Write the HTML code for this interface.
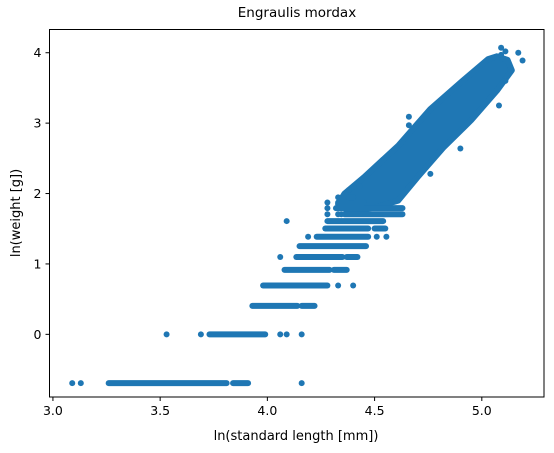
<!DOCTYPE html>
<html><head><meta charset="utf-8"><style>
html,body{margin:0;padding:0;background:#fff;}
svg{display:block;font-family:"DejaVu Sans","Liberation Sans",sans-serif;}
</style></head><body>
<svg id="chart" width="554" height="453" viewBox="0 0 554 453">
<rect x="0" y="0" width="554" height="453" fill="#fff"/>
<text x="297" y="17" font-size="13.5" text-anchor="middle" fill="#000">Engraulis mordax</text>
<g id="marks"></g>
<g id="axes"></g>
<rect x="49.5" y="29.5" width="494.5" height="367.5" fill="none" stroke="#000" stroke-width="1"/>
<text x="296" y="440" font-size="13" text-anchor="middle">ln(standard length [mm])</text>
<text x="0" y="0" font-size="13" text-anchor="middle" transform="translate(20,213) rotate(-90)">ln(weight [g])</text>
</svg>
<script>
const xTicks = [3.0, 3.5, 4.0, 4.5, 5.0];
const xTickLabels = ["3.0", "3.5", "4.0", "4.5", "5.0"];
const yTicks = [0, 1, 2, 3, 4];
const yTickLabels = ["0", "1", "2", "3", "4"];
// discrete weight rows: level, segment starts, segment ends (ln length)
const rowLevels = [-0.693,-0.693,-0.693,-0.693,-0.693, 0,0,0,0,0,0, 0.405,0.405, 0.693,0.693,0.693, 0.916,0.916, 1.099,1.099,1.099, 1.253, 1.386,1.386,1.386,1.386, 1.504,1.504, 1.609,1.609, 1.705,1.705,1.705,1.705, 1.792,1.792, 1.872,1.872, 1.946,1.946];
const rowStart  = [3.09,3.13,3.26,3.84,4.16, 3.53,3.69,3.73,4.06,4.09,4.16, 3.93,4.16, 3.98,4.33,4.40, 4.08,4.31, 4.06,4.135,4.37, 4.15, 4.19,4.23,4.51,4.555, 4.27,4.50, 4.09,4.28, 4.28,4.33,4.345,4.36, 4.28,4.32, 4.28,4.33, 4.33,4.38];
const rowEnd    = [3.09,3.13,3.81,3.91,4.16, 3.53,3.69,3.99,4.06,4.09,4.16, 4.14,4.22, 4.28,4.33,4.40, 4.29,4.37, 4.06,4.35,4.42, 4.46, 4.19,4.47,4.51,4.555, 4.47,4.55, 4.09,4.54, 4.28,4.33,4.345,4.63, 4.28,4.63, 4.28,4.45, 4.33,4.40];
// dense band outline (ln length, ln weight)
const bandX = [4.33,4.36,4.45,4.61,4.76,4.91,5.03,5.07,5.12,5.14,5.07,4.95,4.82,4.70,4.61,4.50,4.38];
const bandY = [1.85,2.00,2.23,2.68,3.20,3.60,3.91,3.95,3.90,3.75,3.46,3.04,2.65,2.23,1.90,1.80,1.75];
// outliers
const outX = [5.09,5.09,5.11,5.17,5.19,4.66,4.66,4.90,5.08,5.11,4.76,4.38,4.43];
const outY = [4.07,3.97,4.02,4.00,3.89,3.09,2.97,2.64,3.25,3.60,2.28,2.05,2.10];

const NS = "http://www.w3.org/2000/svg";
const X0 = 49.5, X1 = 544, Y0 = 397, Y1 = 29.5;
const xMin = 2.984, xMax = 5.29, yMin = -0.89, yMax = 4.33;
function sx(v){ return X0 + (v - xMin) / (xMax - xMin) * (X1 - X0); }
function sy(v){ return Y0 - (v - yMin) / (yMax - yMin) * (Y0 - Y1); }
const col = "#1f77b4";
const marks = document.getElementById("marks");
const axes = document.getElementById("axes");

let d = "";
for (let i = 0; i < bandX.length; i++) d += (i ? "L" : "M") + sx(bandX[i]).toFixed(1) + "," + sy(bandY[i]).toFixed(1);
const band = document.createElementNS(NS, "path");
band.setAttribute("d", d + "Z");
band.setAttribute("fill", col);
band.setAttribute("stroke", col);
band.setAttribute("stroke-width", "6");
band.setAttribute("stroke-linejoin", "round");


marks.appendChild(band);

for (let i = 0; i < rowLevels.length; i++) {
  const ln = document.createElementNS(NS, "line");
  ln.setAttribute("x1", sx(rowStart[i]));
  ln.setAttribute("x2", sx(rowEnd[i]));
  ln.setAttribute("y1", sy(rowLevels[i]));
  ln.setAttribute("y2", sy(rowLevels[i]));
  ln.setAttribute("stroke", col);
  ln.setAttribute("stroke-width", "6");
  ln.setAttribute("stroke-linecap", "round");
  
  
  marks.appendChild(ln);
}
for (let i = 0; i < outX.length; i++) {
  const c = document.createElementNS(NS, "circle");
  c.setAttribute("cx", sx(outX[i]));
  c.setAttribute("cy", sy(outY[i]));
  c.setAttribute("r", "3");
  c.setAttribute("fill", col);
  
  
  marks.appendChild(c);
}
for (let i = 0; i < xTicks.length; i++) {
  const x = sx(xTicks[i]);
  const t = document.createElementNS(NS, "line");
  t.setAttribute("x1", x); t.setAttribute("x2", x);
  t.setAttribute("y1", Y0); t.setAttribute("y2", Y0 + 4);
  t.setAttribute("stroke", "#000");
  
  
  axes.appendChild(t);
  const l = document.createElementNS(NS, "text");
  l.setAttribute("x", x); l.setAttribute("y", Y0 + 18);
  l.setAttribute("font-size", "12.5");
  l.setAttribute("text-anchor", "middle");
  l.textContent = xTickLabels[i];
  
  
  axes.appendChild(l);
}
for (let i = 0; i < yTicks.length; i++) {
  const y = sy(yTicks[i]);
  const t = document.createElementNS(NS, "line");
  t.setAttribute("x1", X0 - 4); t.setAttribute("x2", X0);
  t.setAttribute("y1", y); t.setAttribute("y2", y);
  t.setAttribute("stroke", "#000");
  
  
  axes.appendChild(t);
  const l = document.createElementNS(NS, "text");
  l.setAttribute("x", X0 - 8); l.setAttribute("y", y + 4.5);
  l.setAttribute("font-size", "12.5");
  l.setAttribute("text-anchor", "end");
  l.textContent = yTickLabels[i];
  
  
  axes.appendChild(l);
}
</script>
</body></html>
